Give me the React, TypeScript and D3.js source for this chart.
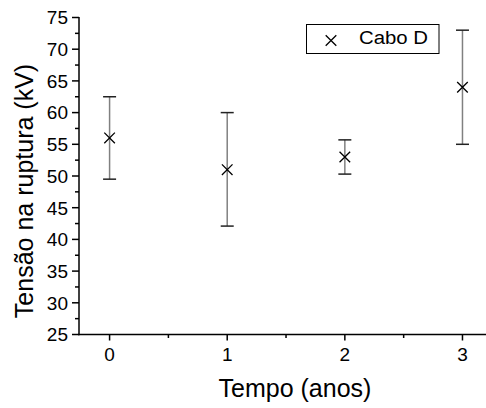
import React from "react";
import * as d3 from "d3";

const years = [0, 1, 2, 3];
const means = [56, 51, 53, 64];
const upper = [62.5, 60, 55.7, 73];
const lower = [49.5, 42.1, 50.3, 55];
const yTicks = [25, 30, 35, 40, 45, 50, 55, 60, 65, 70, 75];
const yMinor = [27.5, 32.5, 37.5, 42.5, 47.5, 52.5, 57.5, 62.5, 67.5, 72.5];
const xTicks = [0, 1, 2, 3];
const xMinor = [0.5, 1.5, 2.5];
const seriesName = "Cabo D";
const xTitle = "Tempo (anos)";
const yTitle = "Tensão na ruptura (kV)";

const W = 486;
const H = 408;
const FONT = "Arial, 'Liberation Sans', Helvetica, sans-serif";

export default function App() {
  const x = d3.scaleLinear().domain([-0.26, 3.2]).range([79, 486]);
  const y = d3.scaleLinear().domain([25, 75]).range([334.5, 17.5]);
  const left = 79;
  const bottom = 334.5;
  const xs = (v: number) => x(v);
  const m = 5.3;
  const cap = 6.5;

  return (
    <svg
      width={W}
      height={H}
      style={{ position: "absolute", left: 0, top: 0, background: "#fff" }}
      fontFamily={FONT}
    >
      <rect x={0} y={0} width={W} height={H} fill="#fff" />
      {/* error bars */}
      {years.map((t, i) => (
        <g key={"e" + i}>
          <line x1={xs(t)} x2={xs(t)} y1={y(upper[i])} y2={y(lower[i])} stroke="#808080" strokeWidth={1.5} />
          <line x1={xs(t) - cap} x2={xs(t) + cap} y1={y(upper[i])} y2={y(upper[i])} stroke="#222" strokeWidth={1.5} />
          <line x1={xs(t) - cap} x2={xs(t) + cap} y1={y(lower[i])} y2={y(lower[i])} stroke="#222" strokeWidth={1.5} />
        </g>
      ))}
      {/* markers */}
      {years.map((t, i) => (
        <path
          key={"m" + i}
          d={`M${xs(t) - m},${y(means[i]) - m}L${xs(t) + m},${y(means[i]) + m}M${xs(t) - m},${y(means[i]) + m}L${xs(t) + m},${y(means[i]) - m}`}
          stroke="#000"
          strokeWidth={1.3}
          fill="none"
        />
      ))}
      {/* axes */}
      <line x1={left} x2={left} y1={y(75) - 0.5} y2={bottom + 0.75} stroke="#000" strokeWidth={1.5} />
      <line x1={left - 0.75} x2={W} y1={bottom} y2={bottom} stroke="#000" strokeWidth={1.5} />
      {yTicks.map((v) => (
        <g key={"yt" + v}>
          <line x1={left - 7} x2={left} y1={y(v)} y2={y(v)} stroke="#000" strokeWidth={1.5} />
          <text x={68} y={y(v)} dy="0.36em" textAnchor="end" fontSize={19} fill="#000">
            {v}
          </text>
        </g>
      ))}
      {yMinor.map((v) => (
        <line key={"ym" + v} x1={left - 4} x2={left} y1={y(v)} y2={y(v)} stroke="#000" strokeWidth={1.5} />
      ))}
      {xTicks.map((v) => (
        <g key={"xt" + v}>
          <line x1={xs(v)} x2={xs(v)} y1={bottom} y2={bottom + 6} stroke="#000" strokeWidth={1.5} />
          <text x={xs(v)} y={361} textAnchor="middle" fontSize={19} fill="#000">
            {v}
          </text>
        </g>
      ))}
      {xMinor.map((v) => (
        <line key={"xm" + v} x1={xs(v)} x2={xs(v)} y1={bottom} y2={bottom + 3.5} stroke="#000" strokeWidth={1.5} />
      ))}
      {/* titles */}
      <text x={295} y={397} textAnchor="middle" fontSize={25} fill="#000">
        {xTitle}
      </text>
      <text transform="translate(33,191) rotate(-90)" textAnchor="middle" fontSize={25} fill="#000">
        {yTitle}
      </text>
      {/* legend */}
      <rect x={306.5} y={24.5} width={132.5} height={29} fill="#fff" stroke="#000" strokeWidth={1} />
      <path
        d={`M${331 - m},${40.5 - m}L${331 + m},${40.5 + m}M${331 - m},${40.5 + m}L${331 + m},${40.5 - m}`}
        stroke="#000"
        strokeWidth={1.3}
        fill="none"
      />
      <text x={359} y={44} fontSize={18} textLength={69} lengthAdjust="spacingAndGlyphs" fill="#000">
        {seriesName}
      </text>
    </svg>
  );
}
